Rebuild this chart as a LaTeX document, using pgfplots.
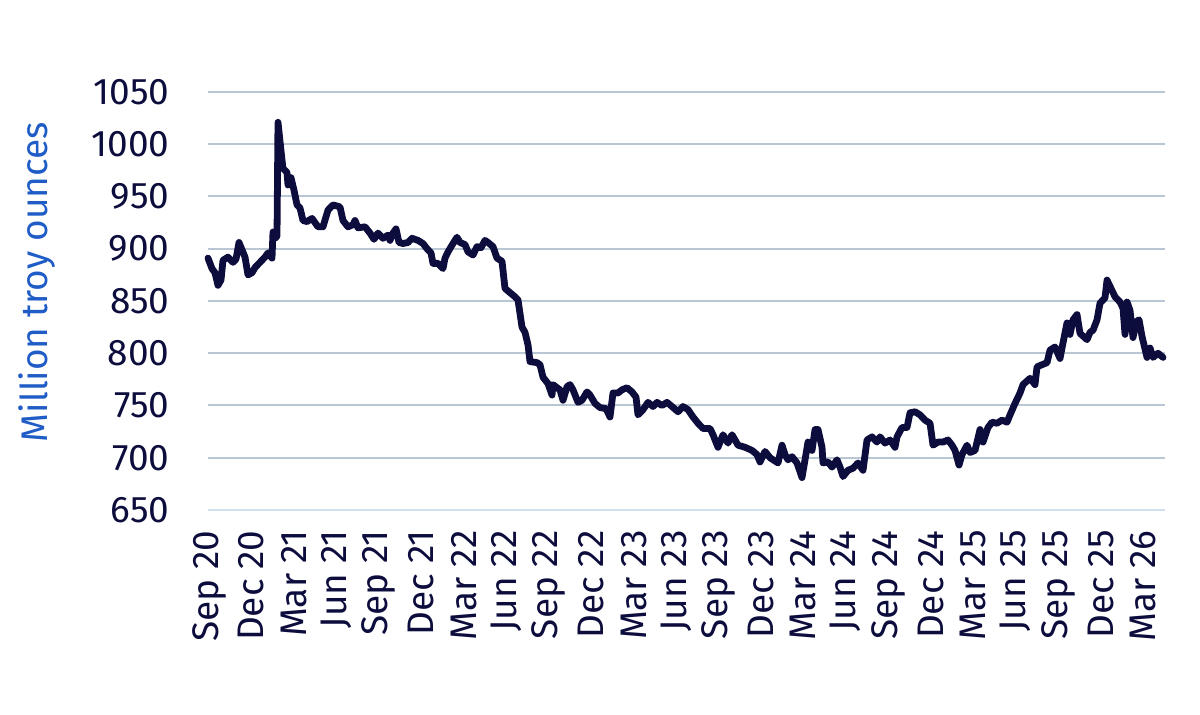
\documentclass[border=0pt]{standalone}
\usepackage{pgfplots}
\pgfplotsset{compat=1.18}
\usepackage{fontspec}
\setmainfont{Fira Sans}
\definecolor{navy}{HTML}{0D0D3D}
\definecolor{labblue}{HTML}{1F5CC6}
\definecolor{gridc}{HTML}{B9C6D3}
\definecolor{xaxisc}{HTML}{CFE0F0}
\begin{document}
\begin{tikzpicture}
\begin{axis}[
  scale only axis,
  width=478.5pt, height=209pt,
  xmin=-0.0707, xmax=67.56,
  ymin=650, ymax=1050,
  ytick={650,700,...,1050},
  xtick={0,3,...,66},
  xticklabels={Sep 20,Dec 20,Mar 21,Jun 21,Sep 21,Dec 21,Mar 22,Jun 22,Sep 22,Dec 22,Mar 23,Jun 23,Sep 23,Dec 23,Mar 24,Jun 24,Sep 24,Dec 24,Mar 25,Jun 25,Sep 25,Dec 25,Mar 26},
  axis x line*=bottom, axis y line*=left,
  x axis line style={color=xaxisc, line width=1pt, -},
  y axis line style={draw=none},
  major tick length=0pt,
  ymajorgrids,
  grid style={color=gridc, line width=1pt},
  /pgf/number format/assume math mode=true,
  /pgf/number format/1000 sep={},
  ticklabel style={font=\fontsize{18.5}{22}\selectfont, color=navy, inner sep=0pt},
  xticklabel style={rotate=90, anchor=east},
  xticklabel shift=10pt,
  yticklabel shift=19pt,
  ylabel={Million troy ounces},
  ylabel style={at={(axis description cs:-0.179,0.545)}, anchor=center, font=\fontsize{18.5}{22}\selectfont, color=labblue},
  clip=false,
]
\addplot[line width=3.4pt, color=navy, line join=round, line cap=round] table[x expr={(\thisrow{px}-209)/14.15}, y=v] {
px v
208 891
212 881
215 877
218 865
221 870
223 889
228 892
233 887
236 890
239 906
242 899
245 892
248 875
252 877
255 882
260 887
265 892
268 896
272 891
273 916
275 910
277 912
278 1021
282 985
283 977
287 973
288 961
291 968
294 956
297 942
300 939
303 927
307 926
312 929
315 925
318 921
323 921
328 937
333 942
340 940
343 927
348 921
353 923
355 927
358 920
365 921
370 915
374 909
378 915
383 910
388 913
390 908
393 915
396 919
399 906
403 905
408 906
412 910
418 908
423 905
427 900
431 896
433 886
438 886
443 881
445 891
448 897
453 905
457 911
460 906
465 904
468 897
473 894
477 902
481 901
485 908
488 906
493 902
497 891
502 888
505 862
510 858
515 854
518 851
522 825
525 820
528 808
530 792
537 791
540 789
543 777
548 771
552 760
553 770
557 767
560 765
563 755
567 768
570 770
573 765
578 753
582 755
587 763
590 760
595 752
600 748
606 747
610 739
613 762
618 762
622 765
627 767
632 763
636 758
638 741
643 746
648 753
653 749
657 753
662 750
667 753
672 749
678 744
683 749
688 746
693 739
698 733
703 728
710 728
713 722
718 710
723 722
728 714
732 722
738 712
745 710
752 707
757 703
760 696
765 706
770 700
778 695
782 712
785 703
788 698
792 701
797 695
802 681
805 698
808 715
812 707
815 727
818 727
822 710
823 695
828 696
832 691
837 698
840 691
843 682
848 688
853 690
858 695
863 688
867 717
872 720
877 715
880 720
885 714
890 717
895 710
897 720
902 729
907 729
910 743
915 744
920 741
925 736
930 733
933 712
938 715
943 715
948 717
952 712
955 707
959 693
962 703
967 712
970 705
975 707
980 727
983 715
988 729
992 734
997 733
1002 736
1007 734
1010 741
1015 752
1020 762
1023 770
1030 776
1035 770
1037 787
1042 789
1047 791
1050 803
1055 806
1060 795
1063 810
1067 829
1070 818
1073 832
1077 837
1080 819
1087 813
1090 820
1093 822
1097 832
1100 848
1105 853
1107 870
1112 860
1115 854
1120 849
1123 843
1125 818
1127 849
1130 841
1133 815
1136 830
1139 832
1142 816
1144 808
1147 796
1150 805
1153 796
1158 800
1163 796
};
\end{axis}
\pgfresetboundingbox
\path ([shift={(-104pt,-102.5pt)}]current axis.south west) rectangle ([shift={(17.5pt,46pt)}]current axis.north east);
\end{tikzpicture}
\end{document}
